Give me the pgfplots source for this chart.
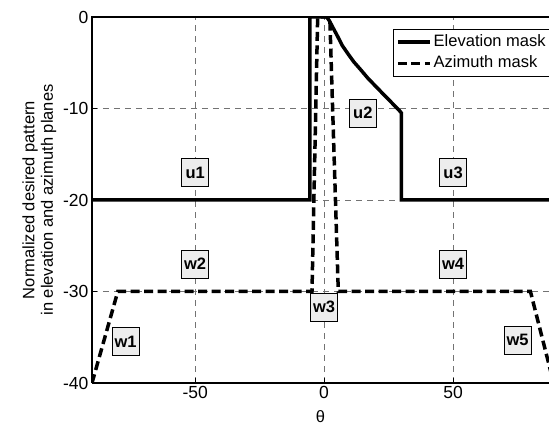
\documentclass[border=0pt]{standalone}
\usepackage{fontspec}
\setmainfont{Liberation Sans}
\usepackage{pgfplots}
\pgfplotsset{compat=1.18}

\begin{document}
\begin{tikzpicture}[font=\fontsize{16.5}{18.5}\selectfont,
  lab/.style={draw=black, line width=0.8pt, fill=black!7, font=\fontsize{16.5}{18.5}\selectfont\bfseries,
              minimum width=27pt, minimum height=28pt, inner sep=1pt}]
\begin{axis}[
  scale only axis,
  width=457pt, height=366pt,
  xmin=-90, xmax=87.2, ymin=-40, ymax=0,
  axis x line*=bottom, axis y line*=left,
  xtick={-50,0,50}, ytick={-40,-30,-20,-10,0},
  tick align=inside, major tick length=5pt,
  tick style={black, line width=0.6pt},
  tick label style={font=\fontsize{17.5}{19}\selectfont},
  axis line style={black, line width=1.2pt},
  grid=major,
  major grid style={black!55, line width=0.6pt, dash pattern=on 6pt off 5pt},
  /pgf/number format/assume math mode=true,
  xlabel={θ},
  xlabel style={yshift=-5pt},
  ylabel={Normalized desired pattern\\in elevation and azimuth planes},
  ylabel style={align=center},
  legend cell align=left,
  legend style={at={(1.0044,0.967)}, anchor=north east, draw=black, line width=0.8pt,
                fill=white, inner xsep=3pt, inner ysep=3pt, row sep=2pt,
                nodes={inner sep=2pt, text height=12pt, text depth=3.5pt}},
  legend image code/.code={\draw[#1] (0pt,0pt) -- (32pt,0pt);},
]
% elevation mask (cosecant-like shaped beam)
\addplot[black, line width=3.5pt, line join=miter] coordinates {
  (-90,-20) (-5.5,-20) (-5.5,0) (1,0) (2,-0.4) (3.5,-1.2) (5.3,-2.15) (7,-3.1)
  (9.2,-4.0) (11.5,-4.9) (14.3,-5.8) (17,-6.7) (20.1,-7.6) (22.5,-8.3)
  (25.2,-9.07) (27,-9.6) (29.1,-10.2) (30,-10.5) (30,-20) (90,-20)};
\addlegendentry{Elevation mask}
% azimuth mask
\addplot[black, line width=3.5pt, dash pattern=on 9pt off 4.5pt] coordinates {
  (-90,-40) (-80,-30) (-4.7,-30) (-2.5,0) (2.2,0) (5.5,-30) (80,-30) (89,-40)};
\addlegendentry{Azimuth mask}

\node[lab] at (axis cs:-50,-17) {u1};
\node[lab] at (axis cs:15,-10.5) {u2};
\node[lab] at (axis cs:50,-17) {u3};
\node[lab] at (axis cs:-77,-35.5) {w1};
\node[lab] at (axis cs:-50,-27) {w2};
\node[lab] at (axis cs:0,-31.7) {w3};
\node[lab] at (axis cs:50,-27) {w4};
\node[lab] at (axis cs:75,-35.3) {w5};

\coordinate (ll) at (rel axis cs:0,0);
\coordinate (ur) at (rel axis cs:1,1);
\coordinate (ul) at (rel axis cs:0,1);
\end{axis}
% top frame line
\draw[black, line width=1.4pt, line cap=rect] (ul) -- (ur);
\pgfresetboundingbox
\path[use as bounding box] ([xshift=-92pt,yshift=-45pt]ll) rectangle ([yshift=17pt]ur);
\end{tikzpicture}
\end{document}
